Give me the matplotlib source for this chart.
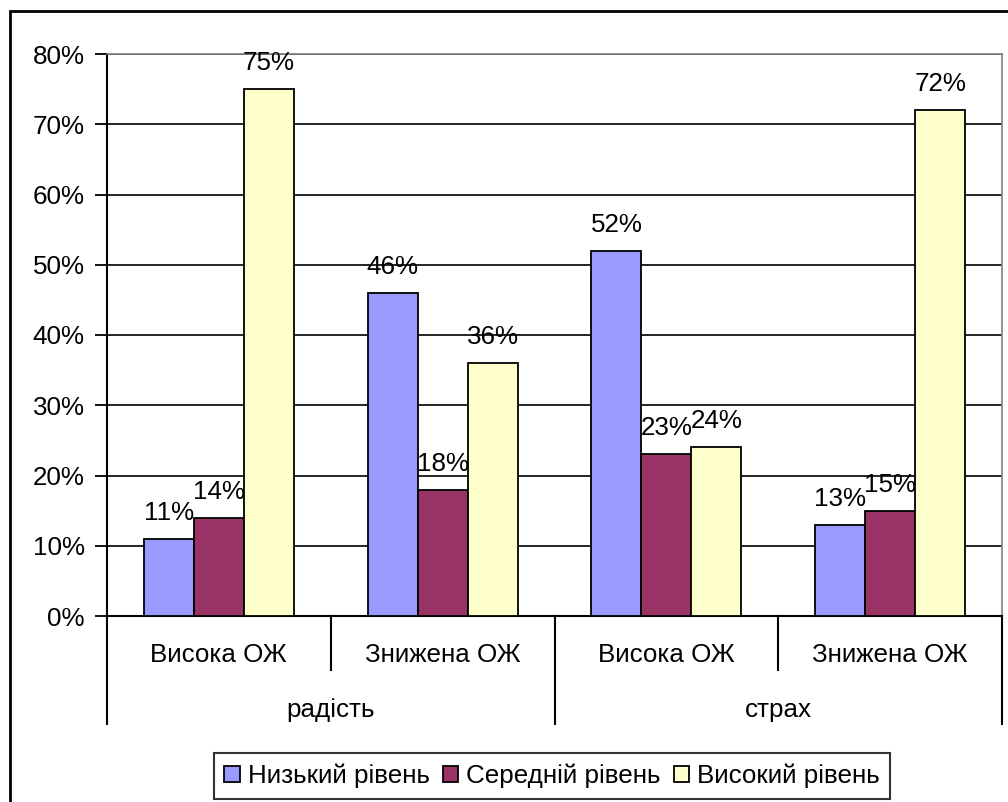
import matplotlib
matplotlib.use("Agg")
import matplotlib.pyplot as plt
from matplotlib.patches import Rectangle
from matplotlib.lines import Line2D
import matplotlib.transforms as mtransforms

plt.rcParams['font.family'] = ['Liberation Sans', 'DejaVu Sans']

# Data
subcategories = ["Висока ОЖ", "Знижена ОЖ", "Висока ОЖ", "Знижена ОЖ"]
groups = ["радість", "страх"]
series_names = ["Низький рівень", "Середній рівень", "Високий рівень"]
low = [11, 46, 52, 13]
mid = [14, 18, 23, 15]
high = [75, 36, 24, 72]
y_ticks = [0, 10, 20, 30, 40, 50, 60, 70, 80]

colors = ["#9999FF", "#993366", "#FFFFCC"]
FS = 18.7

W, H = 1008, 802
fig = plt.figure(figsize=(W / 100, H / 100), dpi=100)

# Outer chart border
fig.add_artist(Rectangle((10 / W, -0.05), 1.1, 1 - 11 / H + 0.05,
                         transform=fig.transFigure, fill=False,
                         edgecolor="black", linewidth=2))

left, right, top, bottom = 107, 1002, 54, 616
ax = fig.add_axes([left / W, 1 - bottom / H, (right - left) / W, (bottom - top) / H])

n = len(subcategories)
bw = 50 / ((right - left) / n)
xs = list(range(n))
px = 80 / (bottom - top)  # data units per pixel
for i, (vals, c, name) in enumerate(zip([low, mid, high], colors, series_names)):
    pos = [x + (i - 1) * bw for x in xs]
    ax.bar(pos, vals, width=bw, color=c, edgecolor="black",
           linewidth=1.3, label=name, zorder=3)
    for p, v in zip(pos, vals):
        ax.text(p, v + 19 * px, f"{v}%", ha="center", va="baseline",
                fontsize=FS, zorder=4)

ax.set_xlim(-0.5, n - 0.5)
ax.set_ylim(0, 80)
ax.set_yticks(y_ticks)
ax.set_yticklabels([f"{t}%" for t in y_ticks], fontsize=FS)
ax.tick_params(axis="y", direction="out", length=9, width=1.3, pad=7)
ax.set_xticks([])
ax.grid(axis="y", color="black", linewidth=1.2, zorder=0)
ax.set_axisbelow(True)

for s in ["top", "right"]:
    ax.spines[s].set_color("#808080")
    ax.spines[s].set_linewidth(1.2)
ax.spines["left"].set_linewidth(1.5)
ax.spines["bottom"].set_linewidth(1.5)

# Multi-level category axis
trans = mtransforms.blended_transform_factory(ax.transData, ax.transAxes)
plot_h = bottom - top
short_y = -(670 - bottom) / plot_h
long_y = -(724 - bottom) / plot_h
for xb in [-0.5, 1.5, 3.5]:
    ax.add_line(Line2D([xb, xb], [0, long_y], transform=trans, color="black",
                       linewidth=1.5, clip_on=False))
for xb in [0.5, 2.5]:
    ax.add_line(Line2D([xb, xb], [0, short_y], transform=trans, color="black",
                       linewidth=1.5, clip_on=False))

sub_y = -(655 - bottom) / plot_h
grp_y = -(710 - bottom) / plot_h
for x, lab in zip(xs, subcategories):
    ax.text(x, sub_y, lab, transform=trans, ha="center", va="center", fontsize=FS)
for gi, g in enumerate(groups):
    ax.text(gi * 2 + 0.5, grp_y, g, transform=trans, ha="center", va="center",
            fontsize=FS)

leg = fig.legend(loc="center", bbox_to_anchor=(552 / W, 1 - 776 / H), ncol=3,
                 fontsize=FS, frameon=True, fancybox=False, edgecolor="black",
                 handlelength=0.6, handleheight=0.6, handletextpad=0.3,
                 columnspacing=0.5, borderpad=0.4, borderaxespad=0)
leg.get_frame().set_linewidth(1.5)

fig.savefig("out.png", dpi=100)
